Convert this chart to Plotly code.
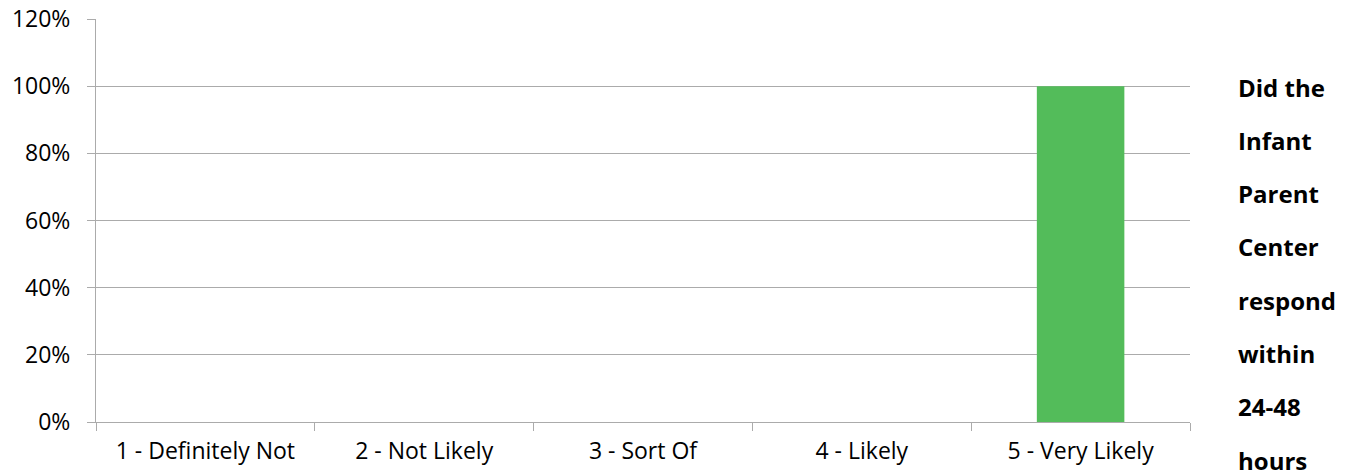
import plotly.graph_objects as go

# Survey responses: share of answers per rating
categories = ["1 - Definitely Not", "2 - Not Likely", "3 - Sort Of", "4 - Likely", "5 - Very Likely"]
shares = [0.0, 0.0, 0.0, 0.0, 1.0]
series_name = "Did the Infant Parent Center respond within 24-48 hours"
legend_lines = ["Did the", "Infant", "Parent", "Center", "respond", "within", "24-48", "hours"]
y_ticks = [0, 0.2, 0.4, 0.6, 0.8, 1.0, 1.2]

W, H = 1356, 476
M_L, M_R, M_T, M_B = 96, 166, 19, 54
GRID = "#ABABAB"
FONT = "Open Sans"
TICK_SIZE = 23

fig = go.Figure(
    go.Bar(
        x=categories,
        y=shares,
        name=series_name,
        marker=dict(color="#53BC5A", line=dict(width=0)),
        width=0.4,
        showlegend=False,
    )
)

# Wrapped series label down the right side
plot_w = W - M_L - M_R
plot_h = H - M_T - M_B
first_px, step_px = 87, 53.3
annotations = []
for i, word in enumerate(legend_lines):
    py = first_px + i * step_px
    annotations.append(
        dict(
            text=f"<b>{word}</b>",
            xref="paper",
            yref="paper",
            x=(1236 - M_L) / plot_w,
            y=(H - M_B - py) / plot_h,
            xanchor="left",
            yanchor="middle",
            showarrow=False,
            font=dict(family=FONT, size=24, color="#000000"),
        )
    )

fig.update_layout(
    width=W,
    height=H,
    margin=dict(l=M_L, r=M_R, t=M_T, b=M_B, pad=0),
    paper_bgcolor="white",
    plot_bgcolor="white",
    font=dict(family=FONT, size=TICK_SIZE, color="#000000"),
    bargap=0.6,
    annotations=annotations,
)

fig.update_xaxes(
    type="category",
    tickson="boundaries",
    ticks="outside",
    ticklen=8,
    tickcolor=GRID,
    tickwidth=1,
    showline=True,
    linecolor=GRID,
    linewidth=1,
    showgrid=False,
    automargin=False,
    ticklabelstandoff=8,
    tickfont=dict(family=FONT, size=TICK_SIZE),
)

fig.update_yaxes(
    range=[0, 1.2],
    tickvals=y_ticks,
    tickformat=".0%",
    ticks="outside",
    ticklen=8,
    tickcolor=GRID,
    showline=True,
    linecolor=GRID,
    linewidth=1,
    showgrid=True,
    gridcolor=GRID,
    gridwidth=1,
    zeroline=False,
    automargin=False,
    ticklabelstandoff=12,
    tickfont=dict(family=FONT, size=TICK_SIZE),
)

fig.write_html("out.html")
